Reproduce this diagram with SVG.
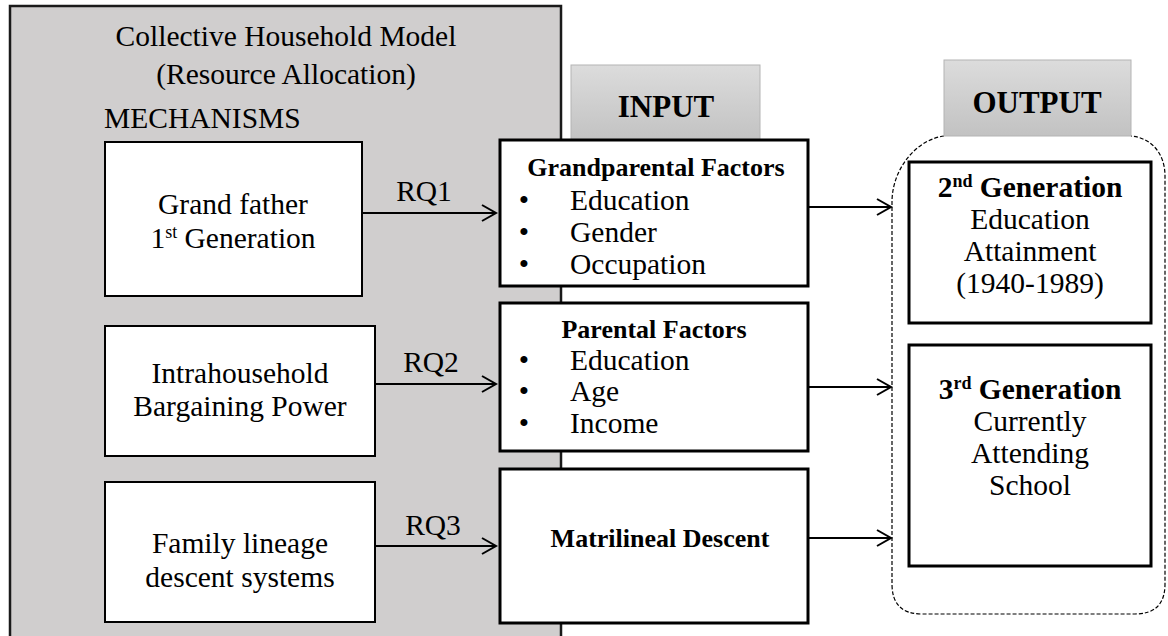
<svg xmlns="http://www.w3.org/2000/svg" width="1168" height="636" viewBox="0 0 1168 636">
<defs>
  <linearGradient id="hdr" x1="0" y1="0" x2="0" y2="1">
    <stop offset="0" stop-color="#dcdcdc"/>
    <stop offset="1" stop-color="#c2c2c2"/>
  </linearGradient>
  <marker id="arr" markerUnits="userSpaceOnUse" markerWidth="18" markerHeight="20" refX="15" refY="9" orient="auto">
    <path d="M1,1 L15,9 L1,17" fill="none" stroke="#000" stroke-width="2"/>
  </marker>
</defs>
<style>
  text { font-family: "Liberation Serif", "Times New Roman", serif; fill: #000; }
  .t { font-size: 29.5px; }
  .c { text-anchor: middle; }
  .b { font-weight: bold; }
  .h { font-size: 26px; font-weight: bold; }
  .hd { font-size: 31px; font-weight: bold; text-anchor: middle; }
  .box { fill: #fff; stroke: #000; stroke-width: 3; }
  .mbox { fill: #fff; stroke: #000; stroke-width: 2; }
  .hbox { fill: url(#hdr); stroke: #b4b4b4; stroke-width: 1; }
  .conn { stroke: #000; stroke-width: 2; fill: none; marker-end: url(#arr); }
</style>

<g id="model-frame">
  <rect x="10" y="6" width="551" height="700" fill="#d0cece" stroke="#1a1a1a" stroke-width="2.5"/>
  <text class="t c" x="286" y="46">Collective Household Model</text>
  <text class="t c" x="286" y="84">(Resource Allocation)</text>
  <text class="t" x="104" y="128">MECHANISMS</text>
</g>

<g id="input-header">
  <rect class="hbox" x="571" y="65" width="189" height="76"/>
  <text class="hd" x="666" y="117">INPUT</text>
</g>

<g id="output-group">
  <path d="M944,136 C915,140 892,170 892,202 L892,584 Q892,614 922,614 L1135,614 Q1165,614 1165,584 L1165,176 C1165,154 1152,138 1131,136" fill="none" stroke="#000" stroke-width="1.2" stroke-dasharray="4,2"/>
</g>

<g id="output-header">
  <rect class="hbox" x="944" y="60" width="187" height="76"/>
  <text class="hd" x="1037" y="113">OUTPUT</text>
</g>

<g id="mech-grandfather">
  <rect class="mbox" x="105" y="142" width="257" height="154"/>
  <text class="t c" x="233" y="214">Grand father</text>
  <text class="t c" x="233" y="248">1<tspan font-size="18" dy="-10">st</tspan><tspan dy="10"> Generation</tspan></text>
</g>

<g id="mech-bargaining">
  <rect class="mbox" x="105" y="326" width="270" height="130"/>
  <text class="t c" x="240" y="383">Intrahousehold</text>
  <text class="t c" x="240" y="416">Bargaining Power</text>
</g>

<g id="mech-lineage">
  <rect class="mbox" x="105" y="482" width="270" height="140"/>
  <text class="t c" x="240" y="553">Family lineage</text>
  <text class="t c" x="240" y="587">descent systems</text>
</g>

<g id="input-grandparental">
  <rect class="box" x="500" y="140" width="308" height="146"/>
  <text class="h c" x="656" y="176">Grandparental Factors</text>
  <text class="t c" x="524" y="210">•</text>
  <text class="t" x="570" y="210">Education</text>
  <text class="t c" x="524" y="242">•</text>
  <text class="t" x="570" y="242">Gender</text>
  <text class="t c" x="524" y="274">•</text>
  <text class="t" x="570" y="274">Occupation</text>
</g>

<g id="input-parental">
  <rect class="box" x="500" y="303" width="308" height="148"/>
  <text class="h c" x="654" y="338">Parental Factors</text>
  <text class="t c" x="524" y="370">•</text>
  <text class="t" x="570" y="370">Education</text>
  <text class="t c" x="524" y="401">•</text>
  <text class="t" x="570" y="401">Age</text>
  <text class="t c" x="524" y="433">•</text>
  <text class="t" x="570" y="433">Income</text>
</g>

<g id="input-matrilineal">
  <rect class="box" x="500" y="469" width="308" height="154"/>
  <text class="h c" x="660" y="547">Matrilineal Descent</text>
</g>

<g id="output-2nd">
  <rect class="box" x="909" y="162" width="242" height="161"/>
  <text class="t c b" x="1030" y="197">2<tspan font-size="18" dy="-10">nd</tspan><tspan dy="10"> Generation</tspan></text>
  <text class="t c" x="1030" y="229">Education</text>
  <text class="t c" x="1030" y="261">Attainment</text>
  <text class="t c" x="1030" y="293">(1940-1989)</text>
</g>

<g id="output-3rd">
  <rect class="box" x="909" y="345" width="242" height="221"/>
  <text class="t c b" x="1030" y="399">3<tspan font-size="18" dy="-10">rd</tspan><tspan dy="10"> Generation</tspan></text>
  <text class="t c" x="1030" y="431">Currently</text>
  <text class="t c" x="1030" y="463">Attending</text>
  <text class="t c" x="1030" y="495">School</text>
</g>

<g id="connectors">
  <line class="conn" x1="362" y1="213" x2="496" y2="213"/>
  <line class="conn" x1="375" y1="384" x2="496" y2="384"/>
  <line class="conn" x1="375" y1="546" x2="496" y2="546"/>
  <line class="conn" x1="808" y1="207" x2="891" y2="207"/>
  <line class="conn" x1="808" y1="387" x2="891" y2="387"/>
  <line class="conn" x1="808" y1="538" x2="891" y2="538"/>
  <text class="t c" x="424" y="201">RQ1</text>
  <text class="t c" x="431" y="372">RQ2</text>
  <text class="t c" x="433" y="535">RQ3</text>
</g>
</svg>
